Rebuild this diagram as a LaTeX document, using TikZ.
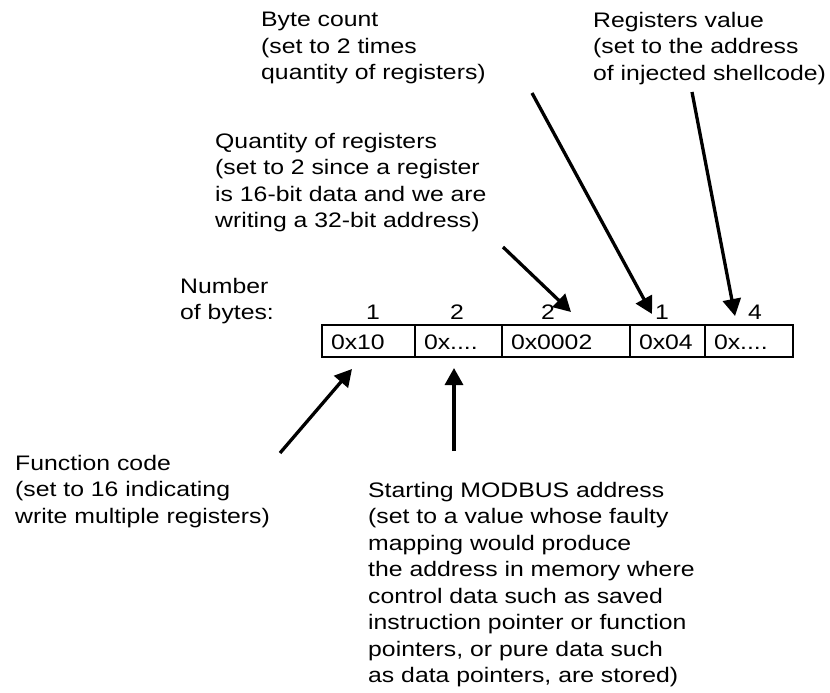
\documentclass[tikz,border=0pt]{standalone}
\usepackage{fontspec}
\setmainfont{Liberation Sans}[FakeStretch=1.18]
\usetikzlibrary{arrows.meta,positioning}

\begin{document}
\begin{tikzpicture}[
x=1pt, y=-1pt,
every node/.style={
inner sep=0pt,
font=\fontsize{21}{26.5}\selectfont
},
note/.style={align=left, anchor=north west},
cell/.style={draw, line width=2.2pt, outer sep=0pt,
minimum width=#1, minimum height=32pt,
text width=#1-18pt, inner xsep=9pt, align=left,
text height=17pt, text depth=0pt},
count/.style={anchor=base},
pointer/.style={-{Triangle[length=17pt,width=18pt]}, line width=3.3pt}
]

\useasboundingbox (0,0) rectangle (830,693);

% =====================================================
% Labels
% =====================================================

\node (bytecount) [note] at (261,12)
{Byte count\\(set to 2 times\\quantity of registers)};

\node (regvalue) [note] at (593,12)
{Registers value\\(set to the address\\of injected shellcode)};

\node (quantity) [note] at (215,133)
{Quantity of registers\\(set to 2 since a register\\is 16-bit data and we are\\writing a 32-bit address)};

\node (numbytes) [note] at (180,278)
{Number\\of bytes:};

\node (funccode) [note] at (15,455)
{Function code\\(set to 16 indicating\\write multiple registers)};

\node (startaddr) [note] at (368,482)
{Starting MODBUS address\\(set to a value whose faulty\\mapping would produce\\the address in memory where\\control data such as saved\\instruction pointer or function\\pointers, or pure data such\\as data pointers, are stored)};

% =====================================================
% Request fields
% =====================================================

\node (fcode) [cell=93pt, anchor=north west] at (322,325) {0x10};
\node (addr) [cell=87pt, right=0pt of fcode] {0x....};
\node (qty) [cell=128pt, right=0pt of addr] {0x0002};
\node (bcount) [cell=75pt, right=0pt of qty] {0x04};
\node (value) [cell=88pt, right=0pt of bcount] {0x....};

\node (n1) [count] at (373,319) {1};
\node (n2) [count] at (457,319) {2};
\node (n3) [count] at (548,319) {2};
\node (n4) [count] at (662,319) {1};
\node (n5) [count] at (755,319) {4};

% =====================================================
% Arrows
% =====================================================

\coordinate (qtail) at (503,247);
\coordinate (qtip) at (571,312);
\coordinate (btail) at (532,93);
\coordinate (btip) at (652,314);
\coordinate (rtail) at (692,92);
\coordinate (rtip) at (735,316);
\coordinate (ftail) at (280,453);
\coordinate (ftip) at (352,369);
\coordinate (stail) at (454,451);
\coordinate (stip) at (454,368);

\draw [pointer] (qtail) -- (qtip);

\draw [pointer] (btail) -- (btip);

\draw [pointer] (rtail) -- (rtip);

\draw [pointer] (ftail) -- (ftip);

\draw [pointer] (stail) -- (stip);

\end{tikzpicture}
\end{document}
